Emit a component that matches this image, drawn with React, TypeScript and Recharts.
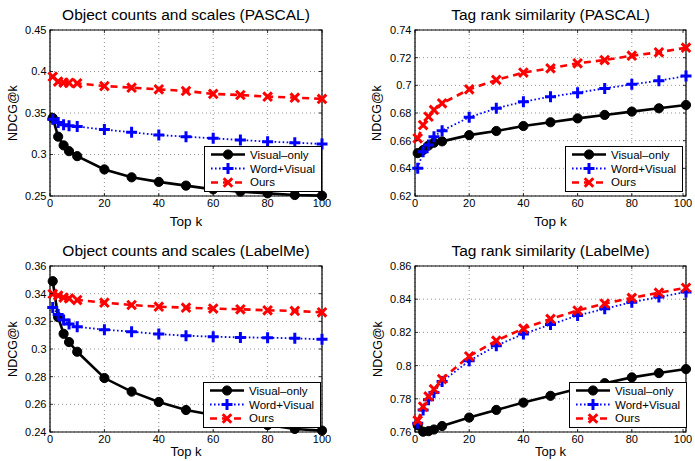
import React from 'react';
import { LineChart, Line, XAxis, YAxis, CartesianGrid, ReferenceArea } from 'recharts';

const K = [1, 3, 5, 7, 10, 20, 30, 40, 50, 60, 70, 80, 90, 100];
const X_TICKS = [0, 20, 40, 60, 80, 100];
const NAMES = ['Visual\u2013only', 'Word+Visual', 'Ours'];

const P1_TITLE = 'Object counts and scales (PASCAL)';
const P1_VISUAL = [0.344, 0.3215, 0.311, 0.304, 0.298, 0.282, 0.2725, 0.267, 0.2625, 0.258, 0.2553, 0.2532, 0.2512, 0.2504];
const P1_WORD = [0.3424, 0.3385, 0.3358, 0.3345, 0.3337, 0.3300, 0.3267, 0.3235, 0.3215, 0.3195, 0.3175, 0.3155, 0.3143, 0.3127];
const P1_OURS = [0.3938, 0.3878, 0.3866, 0.3864, 0.3858, 0.3825, 0.3805, 0.3785, 0.3765, 0.373, 0.3717, 0.3697, 0.3685, 0.367];
const P1_Y_TICKS = [0.25, 0.3, 0.35, 0.4, 0.45];

const P2_TITLE = 'Tag rank similarity (PASCAL)';
const P2_VISUAL = [0.651, 0.6532, 0.6565, 0.6585, 0.6595, 0.664, 0.667, 0.6706, 0.6733, 0.6761, 0.6786, 0.681, 0.6834, 0.6858];
const P2_WORD = [0.640, 0.652, 0.6568, 0.6629, 0.6672, 0.6769, 0.6834, 0.6882, 0.6918, 0.6947, 0.6978, 0.7007, 0.7034, 0.7067];
const P2_OURS = [0.6617, 0.6713, 0.6773, 0.6822, 0.687, 0.6971, 0.7039, 0.7092, 0.7123, 0.7159, 0.7183, 0.7214, 0.7239, 0.7272];
const P2_Y_TICKS = [0.62, 0.64, 0.66, 0.68, 0.7, 0.72, 0.74];

const P3_TITLE = 'Object counts and scales (LabelMe)';
const P3_VISUAL = [0.349, 0.323, 0.311, 0.305, 0.298, 0.279, 0.2692, 0.2617, 0.2559, 0.2523, 0.2487, 0.245, 0.2422, 0.241];
const P3_WORD = [0.330, 0.325, 0.321, 0.318, 0.316, 0.314, 0.3125, 0.3108, 0.3096, 0.3089, 0.3084, 0.3082, 0.3077, 0.307];
const P3_OURS = [0.3398, 0.3386, 0.3372, 0.3366, 0.3354, 0.3335, 0.3318, 0.3306, 0.3299, 0.3292, 0.3287, 0.328, 0.3275, 0.3265];
const P3_Y_TICKS = [0.24, 0.26, 0.28, 0.3, 0.32, 0.34, 0.36];

const P4_TITLE = 'Tag rank similarity (LabelMe)';
const P4_VISUAL = [0.764, 0.7602, 0.7605, 0.7615, 0.7636, 0.7687, 0.7733, 0.7777, 0.7818, 0.786, 0.7894, 0.7929, 0.7955, 0.7979];
const P4_WORD = [0.7652, 0.7733, 0.7794, 0.7838, 0.7904, 0.8029, 0.812, 0.8191, 0.8247, 0.8302, 0.8342, 0.8382, 0.8413, 0.8443];
const P4_OURS = [0.767, 0.7753, 0.7814, 0.7858, 0.7919, 0.8056, 0.815, 0.8223, 0.8281, 0.8332, 0.8374, 0.8408, 0.8439, 0.8469];
const P4_Y_TICKS = [0.76, 0.78, 0.8, 0.82, 0.84, 0.86];

const FONT = '"Liberation Sans", Arial, Helvetica, sans-serif';
const BLACK = '#000000';
const BLUE = '#0000ff';
const RED = '#ff0000';

const buildRows = (v: number[], w: number[], o: number[]) =>
  K.map((k, i) => ({ k, visual: v[i], word: w[i], ours: o[i] }));

const fmt = (v: number) => String(Number(v.toFixed(2)));

const circleMark = (cx: number, cy: number, key?: any) => (
  <circle key={key} cx={cx} cy={cy} r={4.6} fill={BLACK} stroke={BLACK} strokeWidth={1} />
);
const plusMark = (cx: number, cy: number, key?: any) => (
  <path key={key} d={`M${cx - 5.5},${cy}H${cx + 5.5}M${cx},${cy - 5.5}V${cy + 5.5}`} stroke={BLUE} strokeWidth={3} fill="none" />
);
const crossMark = (cx: number, cy: number, key?: any) => (
  <path key={key} d={`M${cx - 4.3},${cy - 4.3}L${cx + 4.3},${cy + 4.3}M${cx - 4.3},${cy + 4.3}L${cx + 4.3},${cy - 4.3}`} stroke={RED} strokeWidth={3} fill="none" />
);

const CircleDot = (p: any) => (p.cx == null ? <g key={p.index} /> : circleMark(p.cx, p.cy, p.index));
const PlusDot = (p: any) => (p.cx == null ? <g key={p.index} /> : plusMark(p.cx, p.cy, p.index));
const CrossDot = (p: any) => (p.cx == null ? <g key={p.index} /> : crossMark(p.cx, p.cy, p.index));

type Plot = { l: number; r: number; t: number; b: number };

const makeXTick = (plot: Plot) => (props: any) => {
  const { x, y, payload } = props;
  return (
    <g>
      <text x={x} y={y} dy="0.71em" textAnchor="middle" fontSize={11} fontFamily={FONT} fill={BLACK}>
        {payload.value}
      </text>
      <line x1={x} x2={x} y1={plot.b} y2={plot.b - 3} stroke={BLACK} strokeWidth={0.8} />
      <line x1={x} x2={x} y1={plot.t} y2={plot.t + 3} stroke={BLACK} strokeWidth={0.8} />
    </g>
  );
};

const makeYTick = (plot: Plot) => (props: any) => {
  const { x, y, payload } = props;
  return (
    <g>
      <text x={x} y={y} dy="0.355em" textAnchor="end" fontSize={11} fontFamily={FONT} fill={BLACK}>
        {fmt(payload.value)}
      </text>
      <line x1={plot.l} x2={plot.l + 3} y1={y} y2={y} stroke={BLACK} strokeWidth={0.8} />
      <line x1={plot.r} x2={plot.r - 3} y1={y} y2={y} stroke={BLACK} strokeWidth={0.8} />
    </g>
  );
};

const LegendBox = ({ left, top }: { left: number; top: number }) => {
  const samples = [
    { stroke: BLACK, dash: undefined, width: 2.6, mark: circleMark },
    { stroke: BLUE, dash: '1.6 2.4', width: 1.8, mark: plusMark },
    { stroke: RED, dash: '7 5', width: 2.6, mark: crossMark },
  ];
  return (
    <div
      style={{
        position: 'absolute',
        left,
        top,
        border: '1px solid #000',
        background: '#fff',
        padding: '1px 6px 2px 5px',
        fontFamily: FONT,
        fontSize: 11.5,
        color: '#000',
      }}
    >
      {samples.map((s, i) => (
        <div key={i} style={{ display: 'flex', alignItems: 'center', height: 13.7, whiteSpace: 'nowrap' }}>
          <svg width={36} height={13} style={{ marginRight: 4, overflow: 'visible' }}>
            <line x1={1} x2={35} y1={6.5} y2={6.5} stroke={s.stroke} strokeWidth={s.width} strokeDasharray={s.dash} />
            {s.mark(18, 6.5)}
          </svg>
          <span>{NAMES[i]}</span>
        </div>
      ))}
    </div>
  );
};

type PanelProps = {
  left: number;
  top: number;
  width: number;
  plot: Plot;
  title: string;
  rows: any[];
  yTicks: number[];
  legendLeft: number;
  yLabelX: number;
  xLabelGap: number;
  xLabelSize: number;
};

const CH = 230;

const Panel = ({ left, top, width, plot, title, rows, yTicks, legendLeft, yLabelX, xLabelGap, xLabelSize }: PanelProps) => {
  const yMin = yTicks[0];
  const yMax = yTicks[yTicks.length - 1];
  return (
    <div style={{ position: 'absolute', left, top, width, height: CH }}>
      <div
        style={{
          position: 'absolute',
          left: plot.l,
          width: plot.r - plot.l,
          top: 6,
          textAlign: 'center',
          fontFamily: FONT,
          fontSize: 15.5,
          lineHeight: '18px',
          whiteSpace: 'nowrap',
          color: '#000',
        }}
      >
        {title}
      </div>
      <LineChart
        width={width}
        height={CH}
        data={rows}
        margin={{ top: plot.t, right: width - plot.r, left: 0, bottom: 0 }}
      >
        <CartesianGrid stroke="#777" strokeWidth={0.8} strokeDasharray="1 3" />
        <XAxis
          dataKey="k"
          type="number"
          domain={[0, 100]}
          ticks={X_TICKS}
          height={CH - plot.b}
          axisLine={false}
          tickLine={false}
          tickSize={0}
          tickMargin={3.5}
          tick={makeXTick(plot)}
          label={(lp: any) => {
            const vb = lp.viewBox || {};
            return (
              <text
                x={vb.x + vb.width / 2}
                y={plot.b + xLabelGap}
                dy="0.35em"
                textAnchor="middle"
                fontSize={xLabelSize}
                fontFamily={FONT}
                fill={BLACK}
              >
                Top k
              </text>
            );
          }}
        />
        <YAxis
          type="number"
          domain={[yMin, yMax]}
          ticks={yTicks}
          width={plot.l}
          axisLine={false}
          tickLine={false}
          tickSize={0}
          tickMargin={3.5}
          tick={makeYTick(plot)}
          label={(lp: any) => {
            const cy = (plot.t + plot.b) / 2;
            return (
              <text
                x={yLabelX}
                y={cy}
                dy="0.35em"
                textAnchor="middle"
                transform={`rotate(-90 ${yLabelX} ${cy})`}
                fontSize={12.5}
                fontFamily={FONT}
                fill={BLACK}
              >
                NDCG@k
              </text>
            );
          }}
        />
        <ReferenceArea x1={0} x2={100} y1={yMin} y2={yMax} fill="none" stroke={BLACK} strokeWidth={1.2} ifOverflow="visible" />
        <Line
          dataKey="visual"
          stroke={BLACK}
          strokeWidth={2.6}
          dot={CircleDot}
          activeDot={false}
          isAnimationActive={false}
        />
        <Line
          dataKey="word"
          stroke={BLUE}
          strokeWidth={1.8}
          strokeDasharray="1.6 2.4"
          dot={PlusDot}
          activeDot={false}
          isAnimationActive={false}
        />
        <Line
          dataKey="ours"
          stroke={RED}
          strokeWidth={2.6}
          strokeDasharray="7 5"
          dot={CrossDot}
          activeDot={false}
          isAnimationActive={false}
        />
      </LineChart>
      <LegendBox left={legendLeft} top={146} />
    </div>
  );
};

const PLOT_L: Plot = { l: 50, r: 322, t: 30, b: 196 };
const PLOT_R: Plot = { l: 70, r: 341, t: 30, b: 196 };

export default function App() {
  return (
    <div
      style={{
        position: 'absolute',
        left: 0,
        top: 0,
        width: 695,
        height: 461,
        overflow: 'hidden',
        background: '#fff',
      }}
    >
      <Panel left={0} top={0} width={340} plot={PLOT_L} title={P1_TITLE}
        rows={buildRows(P1_VISUAL, P1_WORD, P1_OURS)} yTicks={P1_Y_TICKS} legendLeft={204} yLabelX={13}
        xLabelGap={25} xLabelSize={13.5} />
      <Panel left={345} top={0} width={350} plot={PLOT_R} title={P2_TITLE}
        rows={buildRows(P2_VISUAL, P2_WORD, P2_OURS)} yTicks={P2_Y_TICKS} legendLeft={220} yLabelX={32}
        xLabelGap={25} xLabelSize={13.5} />
      <Panel left={0} top={236} width={340} plot={PLOT_L} title={P3_TITLE}
        rows={buildRows(P3_VISUAL, P3_WORD, P3_OURS)} yTicks={P3_Y_TICKS} legendLeft={203} yLabelX={13}
        xLabelGap={19.5} xLabelSize={13} />
      <Panel left={345} top={236} width={350} plot={PLOT_R} title={P4_TITLE}
        rows={buildRows(P4_VISUAL, P4_WORD, P4_OURS)} yTicks={P4_Y_TICKS} legendLeft={224} yLabelX={33}
        xLabelGap={19.5} xLabelSize={13} />
    </div>
  );
}
